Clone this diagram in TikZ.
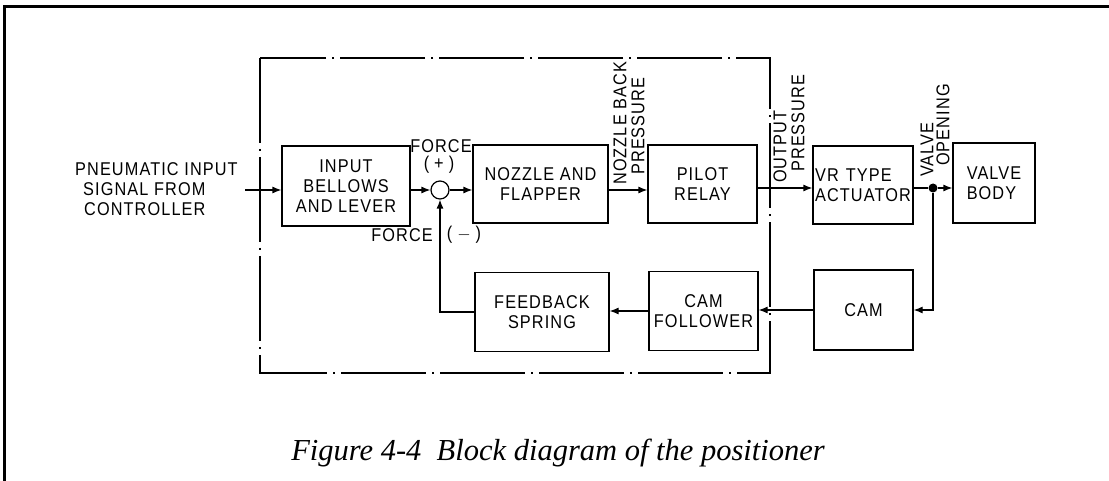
\documentclass[tikz,border=0pt]{standalone}
\usepackage{fontspec}
\setmainfont{Liberation Serif}
\newfontfamily\lblfont{Liberation Sans}[FakeStretch=0.88, LetterSpace=6]
\usetikzlibrary{arrows.meta,calc}
\begin{document}
\begin{tikzpicture}[x=1pt,y=-1pt,
  lbl/.style={font=\lblfont\fontsize{18.5pt}{20pt}\selectfont, inner sep=0pt},
  blk/.style={lbl, draw, line width=1.2pt, align=center},
  conn/.style={line width=1.2pt},
  arr/.style={conn, -{Latex[length=9pt,width=7pt]}},
  vlbl/.style={lbl, rotate=90, anchor=west},
  dashbox/.style={line width=1.1pt, dash pattern=on 85pt off 6pt on 2pt off 6pt},
  frame/.style={line width=3pt}]
\useasboundingbox (0,0) rectangle (1109,481);
\draw[frame] (4.7,481) -- (4.7,6.5) -- (1109,6.5);
% positioner enclosure
\draw[dashbox] (260,58) rectangle (770,373);
% blocks
\node[blk, minimum width=128pt, minimum height=80pt] (IB) at (346,186) {INPUT\\BELLOWS\\AND LEVER};
\node[circle, draw, line width=1.2pt, minimum size=18pt, inner sep=0pt] (sum) at (440,190) {};
\node[blk, minimum width=135pt, minimum height=78pt] (NF) at (540.5,184) {NOZZLE AND\\FLAPPER};
\node[blk, minimum width=109pt, minimum height=78pt] (PR) at (702.5,184) {PILOT\\RELAY};
\node[blk, align=left, minimum width=100pt, minimum height=78pt] (VR) at (863,185) {VR\hspace{7pt}TYPE\\ACTUATOR};
\node[blk, align=left, minimum width=82pt, minimum height=80pt] (VB) at (994,183) {VALVE\\BODY};
\node[blk, minimum width=99pt, minimum height=80pt] (CAM) at (863.5,310) {CAM};
\node[blk, minimum width=109pt, minimum height=79pt] (CF) at (703.5,311) {CAM\\FOLLOWER};
\node[blk, minimum width=134pt, minimum height=79pt] (FS) at (542,312) {FEEDBACK\\SPRING};
\node[circle, fill, inner sep=0pt, minimum size=9pt] (dot) at (933,188) {};
\coordinate (in) at (245,190);
% input text
\node[lbl, align=left, anchor=west] (intxt) at (75,189) {PNEUMATIC INPUT\\\hspace*{8pt}SIGNAL FROM\\\hspace*{9pt}CONTROLLER};
% connectors
\draw[arr] (in) -- (IB.west |- sum);
\draw[arr] (IB.east |- sum) -- (sum.west);
\draw[arr] (sum.east) -- (NF.west |- sum);
\draw[arr] (NF.east |- sum) -- (PR.west |- sum);
\draw[arr] (PR.east |- dot) -- (VR.west |- dot);
\draw[conn] (VR.east |- dot) -- (dot);
\draw[arr] (dot) -- (VB.west |- dot);
\draw[arr] (dot) |- (CAM.east);
\draw[arr] (CAM.west) -- (CAM.west -| CF.east);
\draw[arr] (CF.west) -- (CF.west -| FS.east);
\draw[arr] (FS.west) -| (sum.south);
% signal labels
\node[lbl] (fp) at (441,146) {FORCE};
\node[lbl] (fpp) at (439,165) {(\hspace{5pt}+\hspace{5pt})};
\node[lbl, anchor=east] (fm) at (433,235) {FORCE};
\node[lbl] (fmm) at (464,235) {(\hspace{5pt}$-$\hspace{5pt})};
\node[vlbl] (nb1) at (620,185) {NOZZLE BACK};
\node[vlbl] (nb2) at (638,175) {PRESSURE};
\node[vlbl] (op1) at (780,183) {OUTPUT};
\node[vlbl] (op2) at (798,172) {PRESSURE};
\node[vlbl] (vo1) at (927,177) {VALVE};
\node[vlbl] (vo2) at (943,166) {OPENING};
% caption
\node[inner sep=0pt, anchor=base, font=\itshape\fontsize{30.5pt}{34pt}\selectfont] (cap) at (558,460) {Figure 4-4~ Block diagram of the positioner};
\end{tikzpicture}
\end{document}
